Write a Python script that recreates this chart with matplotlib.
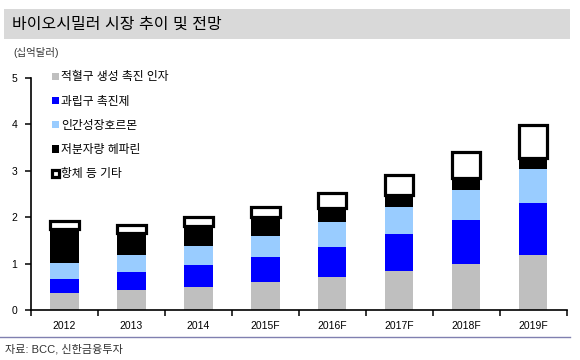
import matplotlib.pyplot as plt
import numpy as np
from matplotlib.patches import Rectangle
from matplotlib.lines import Line2D

plt.rcParams['font.family'] = ['Liberation Sans', 'Noto Sans CJK KR', 'DejaVu Sans']

years = ["2012", "2013", "2014", "2015F", "2016F", "2017F", "2018F", "2019F"]
labels = ["적혈구 생성 촉진 인자", "과립구 촉진제", "인간성장호르몬", "저분자량 헤파린", "항체 등 기타"]
epo = [0.37, 0.43, 0.49, 0.61, 0.72, 0.83, 0.99, 1.19]
gcsf = [0.30, 0.39, 0.47, 0.53, 0.63, 0.80, 0.94, 1.11]
hgh = [0.35, 0.37, 0.42, 0.46, 0.54, 0.60, 0.65, 0.73]
lmwh = [0.73, 0.47, 0.43, 0.40, 0.31, 0.25, 0.26, 0.25]
others = [0.16, 0.17, 0.19, 0.22, 0.32, 0.43, 0.56, 0.71]

fig = plt.figure(figsize=(5.8, 3.6), dpi=100)

# title band
fig.patches.append(Rectangle((4 / 580, 0.892), 566 / 580, 0.083, transform=fig.transFigure,
                             facecolor="#d9d9d9", edgecolor="none"))
fig.text(12 / 580, 0.933, "바이오시밀러 시장 추이 및 전망", fontsize=11.5, va="center", ha="left")
fig.text(13 / 580, 0.855, "(십억달러)", fontsize=7.5, va="center", ha="left", color="#333333")

ax = fig.add_axes([0.0534, 0.139, 0.924, 0.644])
x = np.arange(len(years))
w = 0.42
bottom = np.zeros(len(years))
ax.bar(x, epo, w, bottom=bottom, color="#bfbfbf", label=labels[0])
bottom += epo
ax.bar(x, gcsf, w, bottom=bottom, color="#0000ff", label=labels[1])
bottom += gcsf
ax.bar(x, hgh, w, bottom=bottom, color="#99ccff", label=labels[2])
bottom += hgh
ax.bar(x, lmwh, w, bottom=bottom, color="black", label=labels[3])
bottom += lmwh
ax.bar(x, others, w, bottom=bottom, facecolor="white", edgecolor="black", linewidth=2.3,
       label=labels[4])

ax.set_xlim(-0.5, len(years) - 0.5)
ax.set_ylim(0, 5)
ax.set_xticks(x)
ax.set_xticklabels(years)
ax.set_xticks(np.arange(-0.5, len(years)), minor=True)
ax.tick_params(axis="x", which="major", length=0, pad=8, labelsize=7.5)
ax.tick_params(axis="x", which="minor", length=4, width=1.1, direction="out")
ax.tick_params(axis="y", length=4, width=1.1, labelsize=7.5, pad=6)
ax.set_yticks(range(6))
for s in ["top", "right"]:
    ax.spines[s].set_visible(False)
ax.spines["left"].set_linewidth(1.2)
ax.spines["bottom"].set_linewidth(1.2)

ax.legend(loc="upper left", bbox_to_anchor=(0.02, 1.075), frameon=False, fontsize=8.5,
          handlelength=0.55, handleheight=0.55, handletextpad=0.2, labelspacing=1.04)

# bottom rule and source
fig.add_artist(Line2D([0, 570 / 580], [0.064, 0.064], transform=fig.transFigure,
                      color="#8080b0", linewidth=1.0))
fig.text(5 / 580, 0.030, "자료: BCC, 신한금융투자", fontsize=8, va="center", ha="left",
         color="#333333")

fig.savefig("out.png", dpi=100)
